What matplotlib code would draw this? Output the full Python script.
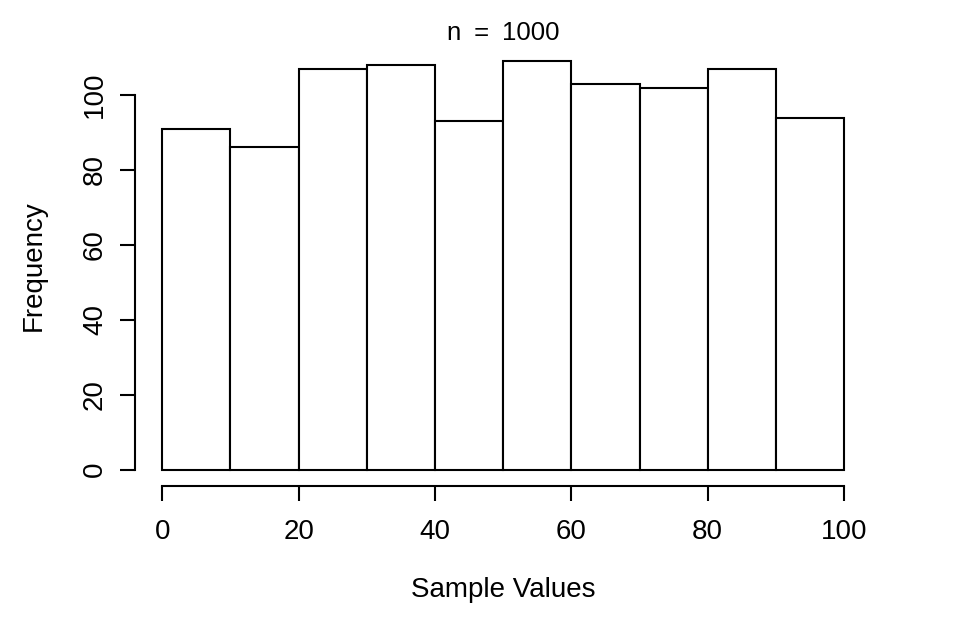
import matplotlib
matplotlib.use("Agg")
import matplotlib.pyplot as plt
import numpy as np

bin_edges = [0, 10, 20, 30, 40, 50, 60, 70, 80, 90, 100]
counts = [91, 86, 107, 108, 93, 109, 103, 102, 107, 94]
x_ticks = [0, 20, 40, 60, 80, 100]
y_ticks = [0, 20, 40, 60, 80, 100]

plt.rcParams['font.family'] = ['Liberation Sans', 'DejaVu Sans']

fig = plt.figure(figsize=(9.56, 6.28), dpi=100)
ax = fig.add_axes([135/956, 1-486/628, (871.3-135)/956, (486-45)/628])

lefts = np.array(bin_edges[:-1])
widths = np.diff(bin_edges)
ax.bar(lefts, counts, width=widths, align='edge', facecolor='white',
       edgecolor='black', linewidth=1.5)

ax.set_xlim(-4, 104)
ax.set_ylim(-4.36, 113.36)
for s in ['top', 'right']:
    ax.spines[s].set_visible(False)
ax.spines['left'].set_bounds(0, 100)
ax.spines['bottom'].set_bounds(0, 100)
ax.spines['left'].set_linewidth(1.5)
ax.spines['bottom'].set_linewidth(1.5)

ax.set_xticks(x_ticks)
ax.set_yticks(y_ticks)
ax.tick_params(axis='both', length=10.5, width=1.5, labelsize=20)
ax.tick_params(axis='x', pad=13)
ax.tick_params(axis='y', pad=9)
for lab in ax.get_yticklabels():
    lab.set_rotation(90)
    lab.set_va('center')

ax.set_xlabel('Sample Values', fontsize=20, labelpad=23.5)
ax.set_ylabel('Frequency', fontsize=20, labelpad=25)
ax.set_title('n\u2002=\u20021000', fontsize=18.5, pad=2.5)

fig.savefig('out.png', dpi=100)
